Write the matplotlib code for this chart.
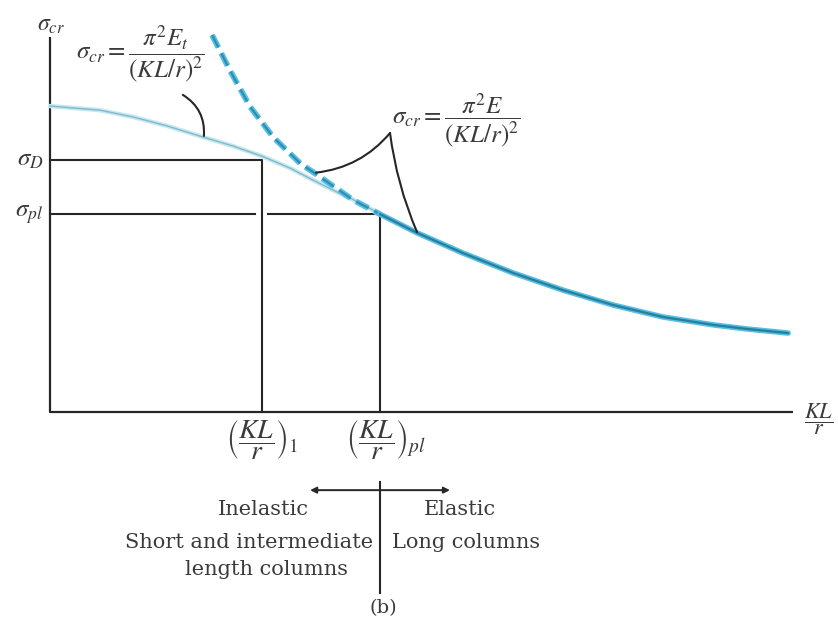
import matplotlib.pyplot as plt

plt.rcParams['mathtext.fontset'] = 'stix'
plt.rcParams['font.family'] = ['DejaVu Serif', 'Liberation Serif']

# chart values (x = KL/r, y = stress, arbitrary units)
sigma_D = 67.4
sigma_pl = 52.9
kl_r1 = 57.3
kl_rpl = 89.2

inelastic_x = [0, 13.5, 22.4, 31.6, 41.4, 49.5, 57.3, 64.9, 71.1, 77.0, 83.8, 89.2]
inelastic_y = [81.8, 80.7, 78.9, 76.5, 73.5, 71.1, 68.4, 65.2, 62.0, 59.1, 55.9, 52.9]

euler_dash_x = [43.8, 48.6, 54.1, 60.3, 67.6, 71.9, 81.9, 89.2]
euler_dash_y = [100.8, 91.4, 81.6, 73.5, 66.5, 63.6, 56.7, 52.9]

euler_x = [89.2, 99.2, 111.6, 125.1, 138.6, 152.2, 165.7, 179.2, 188.4, 199.5]
euler_y = [52.9, 47.9, 42.5, 37.2, 32.6, 28.6, 25.4, 23.3, 22.2, 21.1]

ink = '#262626'
txt = '#3a3a3a'

fig = plt.figure(figsize=(8.38, 6.23), dpi=100)
ax = fig.add_axes([0, 0, 1, 1])
ax.set_xlim(-13.51, 212.97)
ax.set_ylim(-56.42, 110.16)
ax.axis('off')

# axes
ax.plot([0, 0, 200.8], [100.3, 0, 0], color=ink, lw=1.6, solid_capstyle='butt')

# guide lines
ax.plot([0, kl_r1, kl_r1], [sigma_D, sigma_D, 0], color=ink, lw=1.5)
ax.plot([0, kl_r1 - 1.9], [sigma_pl, sigma_pl], color=ink, lw=1.5)
ax.plot([kl_r1 + 1.6, kl_rpl, kl_rpl], [sigma_pl, sigma_pl, 0], color=ink, lw=1.5)

# inelastic (tangent modulus) curve
ax.plot(inelastic_x, inelastic_y, color='#c2e8f3', lw=3.2, solid_capstyle='round')
ax.plot(inelastic_x, inelastic_y, color='#86b9c6', lw=1.0)

# Euler curve, dashed above sigma_pl
ax.plot(euler_dash_x, euler_dash_y, color='#55c0e4', lw=4.2, ls=(0, (2.4, 1.1)))
ax.plot(euler_dash_x, euler_dash_y, color='#2f8db0', lw=1.6, ls=(0, (6.3, 2.9)))
ax.plot(euler_x, euler_y, color='#55c0e4', lw=4.0, solid_capstyle='round')
ax.plot(euler_x, euler_y, color='#2a7f9f', lw=1.7, solid_capstyle='round')

# leaders
lead = dict(arrowstyle='-', color=ink, lw=1.5, shrinkA=0, shrinkB=0)
ax.annotate('', xy=(41.6, 73.8), xytext=(35.9, 84.8),
            arrowprops=dict(lead, connectionstyle='arc3,rad=-0.3'))
ax.annotate('', xy=(91.9, 74.6), xytext=(71.9, 64.0),
            arrowprops=dict(lead, connectionstyle='arc3,rad=0.2'))
ax.annotate('', xy=(99.2, 48.1), xytext=(91.9, 74.6),
            arrowprops=dict(lead, connectionstyle='arc3,rad=0.07'))

# formulas
ax.text(24.4, 95.9, r'$\sigma_{cr} = \dfrac{\pi^2 E_t}{(KL/r)^2}$', fontsize=18,
        color=txt, ha='center', va='center')
ax.text(109.8, 77.9, r'$\sigma_{cr} = \dfrac{\pi^2 E}{(KL/r)^2}$', fontsize=18,
        color=txt, ha='center', va='center')

# axis labels
ax.text(0.3, 103.5, r'$\sigma_{cr}$', fontsize=17, color=txt, ha='center', va='center')
ax.text(-1.8, sigma_D, r'$\sigma_D$', fontsize=18, color=txt, ha='right', va='center')
ax.text(-1.8, sigma_pl, r'$\sigma_{pl}$', fontsize=18, color=txt, ha='right', va='center')
ax.text(207.8, -2.0, r'$\dfrac{KL}{r}$', fontsize=16, color=txt, ha='center', va='center')
ax.text(kl_r1, -1.6, r'$\left(\dfrac{KL}{r}\right)_1$', fontsize=20, color=txt,
        ha='center', va='top')
ax.text(kl_rpl + 1.5, -1.6, r'$\left(\dfrac{KL}{r}\right)_{pl}$', fontsize=20, color=txt,
        ha='center', va='top')

# region marker
ax.annotate('', xy=(70.3, -20.9), xytext=(108.1, -20.9),
            arrowprops=dict(arrowstyle='<|-|>', color=ink, lw=1.4,
                            mutation_scale=9, shrinkA=0, shrinkB=0))
ax.plot([kl_rpl, kl_rpl], [-18.7, -48.4], color=ink, lw=1.5)

ax.text(57.6, -26.2, 'Inelastic', fontsize=15, color=txt, ha='center', va='center')
ax.text(110.8, -26.2, 'Elastic', fontsize=15, color=txt, ha='center', va='center')
ax.text(87.3, -35.0, 'Short and intermediate', fontsize=15, color=txt,
        ha='right', va='center')
ax.text(58.5, -42.2, 'length columns', fontsize=15, color=txt, ha='center', va='center')
ax.text(92.4, -35.0, 'Long columns', fontsize=15, color=txt, ha='left', va='center')
ax.text(90.0, -52.4, '(b)', fontsize=14, color=txt, ha='center', va='center')

fig.savefig('out.png', dpi=100)
